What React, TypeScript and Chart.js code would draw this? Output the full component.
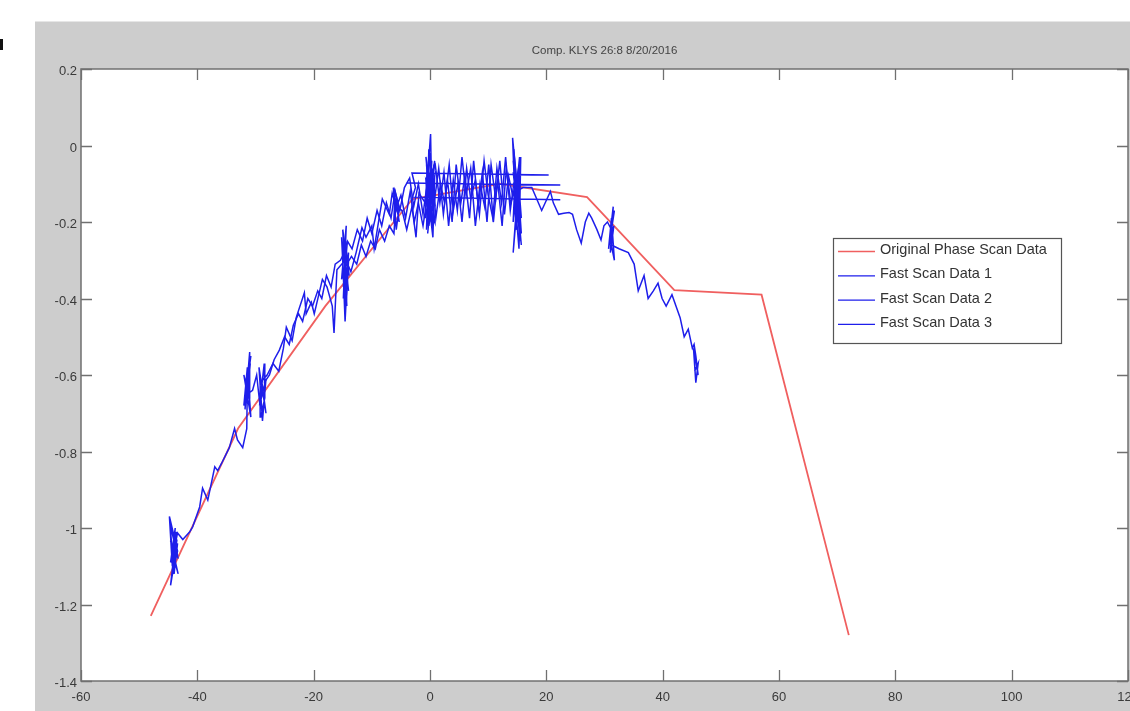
import React, { useEffect, useRef } from "react";
import { Chart, registerables } from "chart.js";

Chart.register(...registerables);

const TITLE = "Comp. KLYS 26:8 8/20/2016";
const seriesLabels = ["Original Phase Scan Data", "Fast Scan Data 1", "Fast Scan Data 2", "Fast Scan Data 3"];

const xTicks = [-60, -40, -20, 0, 20, 40, 60, 80, 100, 120];
const xTickLabels = ["-60", "-40", "-20", "0", "20", "40", "60", "80", "100", "120"];
const yTicks = [0.2, 0, -0.2, -0.4, -0.6, -0.8, -1, -1.2, -1.4];
const yTickLabels = ["0.2", "0", "-0.2", "-0.4", "-0.6", "-0.8", "-1", "-1.2", "-1.4"];

const originalX = [-48, -33, -18, -3, 12, 27, 42, 57, 72];
const originalY = [-1.23, -0.74, -0.42, -0.14, -0.1, -0.135, -0.378, -0.39, -1.28];

const fastScan1: [number, number][] = [
  [-44.0, -1.02], [-43.3, -1.08], [-44.7, -0.99], [-44.0, -1.12], [-43.4, -1.04], [-44.6, -1.15], [-43.6, -1.01], [-44.3, -1.10],
  [-44.8, -0.97], [-43.4, -1.06], [-44.4, -1.13], [-43.5, -1.03], [-44.6, -1.09], [-43.8, -1.00], [-44.2, -1.07], [-43.3, -1.12],
  [-44.5, -1.04], [-43.9, -1.05],
  [-43.4, -1.013], [-42.5, -1.03], [-41.3, -1.01], [-40.8, -0.997], [-39.6, -0.945], [-39.1, -0.896], [-38.2, -0.927], [-37.0, -0.84],
  [-36.5, -0.85], [-35.8, -0.83], [-34.5, -0.79], [-33.6, -0.74], [-33.1, -0.77], [-32.2, -0.79], [-31.5, -0.74],
  [-31.4, -0.62], [-30.8, -0.55], [-32.0, -0.68], [-31.4, -0.58], [-30.8, -0.71], [-32.0, -0.60], [-31.1, -0.66], [-31.0, -0.54],
  [-31.8, -0.69], [-31.6, -0.63], [-30.9, -0.57], [-31.4, -0.65],
  [-30.5, -0.64], [-29.8, -0.60], [-29.3, -0.67],
  [-28.8, -0.63], [-28.2, -0.70], [-29.4, -0.58], [-28.8, -0.72], [-28.2, -0.61], [-29.3, -0.68], [-28.5, -0.57], [-28.4, -0.66],
  [-29.1, -0.71], [-29.2, -0.62],
  [-28.0, -0.60], [-27.0, -0.57], [-26.0, -0.59], [-25.2, -0.53], [-24.7, -0.475], [-23.7, -0.51], [-23.0, -0.45], [-21.6, -0.385],
  [-21.3, -0.44], [-20.4, -0.41], [-19.9, -0.44], [-18.5, -0.35], [-17.7, -0.37], [-16.8, -0.42], [-16.5, -0.49], [-16.0, -0.325],
  [-14.6, -0.30], [-14.0, -0.38], [-15.2, -0.24], [-14.6, -0.43], [-14.0, -0.28], [-15.2, -0.35], [-14.4, -0.21], [-14.9, -0.40],
  [-14.1, -0.31], [-14.6, -0.46], [-15.1, -0.26], [-14.2, -0.36], [-14.8, -0.33], [-14.3, -0.42], [-14.7, -0.29],
  [-13.6, -0.33], [-12.7, -0.28], [-11.7, -0.215], [-11.0, -0.24], [-10.0, -0.21], [-9.6, -0.27], [-8.8, -0.195], [-8.2, -0.14],
  [-7.0, -0.18], [-6.5, -0.125], [-5.8, -0.16], [-4.8, -0.17], [-4.0, -0.22], [-3.1, -0.16], [-2.4, -0.24], [-1.9, -0.125], [-0.8, -0.15],
  [0.1, -0.10], [0.7, -0.18], [-0.6, -0.05], [0.4, -0.22], [0.1, 0.03], [-0.7, -0.14], [0.8, -0.20], [0.0, -0.02], [-0.4, -0.12],
  [0.5, -0.24], [0.8, -0.08], [-0.5, -0.16], [0.3, -0.04], [-0.1, -0.19], [-0.7, -0.09], [0.6, -0.13], [-0.2, -0.21], [0.3, -0.07],
  [0.9, -0.05], [1.7, -0.15], [2.4, -0.07], [3.2, -0.21], [4.0, -0.09], [4.7, -0.17], [5.5, -0.03], [6.2, -0.13], [7.0, -0.06],
  [7.8, -0.21], [8.6, -0.10], [9.4, -0.16], [10.1, -0.05], [10.9, -0.20], [11.6, -0.09], [12.4, -0.21], [13.1, -0.06], [13.9, -0.15],
  [14.5, -0.12],
  [15.1, -0.07], [15.7, -0.19], [14.5, -0.12], [15.3, -0.27], [15.6, -0.03], [14.5, -0.17], [15.4, -0.10], [14.8, -0.22],
  [15.5, -0.14], [14.6, -0.08], [15.1, -0.077],
  [20.4, -0.077], [-3.1, -0.072], [-2.5, -0.11], [-3.0, -0.135], [22.4, -0.142],
];

const fastScan2: [number, number][] = [
  [-28.5, -0.62], [-27.6, -0.60], [-26.8, -0.56], [-25.9, -0.535], [-25.0, -0.50], [-24.2, -0.52], [-23.5, -0.47], [-22.6, -0.44],
  [-21.9, -0.46], [-21.0, -0.40], [-20.2, -0.42], [-19.3, -0.38], [-18.6, -0.40], [-17.8, -0.34], [-17.0, -0.37], [-16.3, -0.31],
  [-15.4, -0.30],
  [-14.4, -0.27], [-13.9, -0.34], [-15.0, -0.22], [-14.4, -0.41], [-14.0, -0.30], [-14.9, -0.37], [-14.2, -0.25], [-14.7, -0.32],
  [-13.5, -0.29], [-12.6, -0.31], [-11.8, -0.26], [-11.0, -0.29], [-10.2, -0.25], [-9.4, -0.27], [-8.7, -0.22], [-7.8, -0.25],
  [-7.0, -0.21], [-6.2, -0.23],
  [-5.8, -0.14], [-5.3, -0.20], [-6.3, -0.11], [-5.8, -0.22], [-5.3, -0.16], [-6.0, -0.12], [-6.2, -0.19], [-5.5, -0.15],
  [-5.0, -0.13], [-4.2, -0.19], [-3.4, -0.12], [-2.7, -0.20], [-2.0, -0.15], [-1.2, -0.21], [-0.5, -0.14],
  [0.0, -0.09], [0.6, -0.17], [-0.7, -0.03], [0.4, -0.21], [0.8, -0.12], [-0.5, -0.06], [-0.8, -0.19], [0.5, -0.10], [0.1, -0.15],
  [-0.4, -0.23], [0.7, -0.05], [0.0, -0.11],
  [0.8, -0.14], [1.5, -0.06], [2.3, -0.18], [3.0, -0.09], [3.8, -0.20], [4.5, -0.05], [5.3, -0.15], [6.0, -0.08], [6.8, -0.19],
  [7.5, -0.04], [8.3, -0.16], [9.0, -0.07], [9.8, -0.20], [10.5, -0.05], [11.3, -0.14], [12.0, -0.04], [12.8, -0.18], [13.5, -0.08],
  [14.2, -0.13],
  [14.8, -0.10], [15.4, -0.18], [14.2, 0.02], [14.8, -0.22], [15.5, -0.06], [14.3, -0.28], [15.0, -0.13], [15.4, -0.03], [14.3, -0.20],
  [14.6, -0.09], [15.5, -0.25], [14.9, -0.15], [14.3, -0.07], [15.3, -0.19], [14.7, -0.11], [15.5, -0.24], [14.3, -0.04], [15.0, -0.12],
  [15.0, -0.103], [22.4, -0.103], [-4.0, -0.098],
];

const fastScan3: [number, number][] = [
  [-15.0, -0.29], [-14.2, -0.25], [-13.4, -0.27], [-12.5, -0.22], [-11.6, -0.25], [-10.8, -0.19], [-10.0, -0.23], [-9.1, -0.17],
  [-8.3, -0.21], [-7.5, -0.15], [-6.7, -0.19], [-6.0, -0.12], [-5.2, -0.17], [-4.4, -0.11],
  [-3.5, -0.085], [-2.8, -0.16], [-2.0, -0.10], [-1.2, -0.18], [-0.4, -0.09],
  [0.2, -0.13], [0.8, -0.04], [-0.5, -0.19], [0.5, -0.08], [0.9, -0.16], [-0.2, -0.01], [-0.6, -0.22], [0.6, -0.11],
  [1.0, -0.19], [1.8, -0.10], [2.5, -0.15], [3.3, -0.05], [4.0, -0.17], [4.8, -0.10], [5.5, -0.20], [6.3, -0.06], [7.0, -0.14],
  [7.8, -0.09], [8.5, -0.18], [9.3, -0.04], [10.0, -0.13], [10.8, -0.19], [11.5, -0.06], [12.3, -0.15], [13.0, -0.03], [13.8, -0.17],
  [14.4, -0.10],
  [15.0, -0.08], [15.6, -0.21], [14.4, -0.01], [15.1, -0.16], [15.7, -0.26], [14.5, -0.05], [15.3, -0.14], [15.7, -0.23], [14.6, -0.09],
  [15.4, -0.17], [14.8, -0.12],
  [16.0, -0.11], [17.5, -0.11], [19.2, -0.17], [20.7, -0.12], [21.2, -0.15], [22.1, -0.18], [23.0, -0.177], [23.9, -0.175],
  [24.5, -0.18], [25.2, -0.22], [26.0, -0.255], [26.7, -0.20], [27.3, -0.177], [27.8, -0.19], [28.7, -0.22], [29.4, -0.247],
  [29.9, -0.21], [30.5, -0.20],
  [31.2, -0.22], [31.7, -0.17], [30.7, -0.27], [31.2, -0.19], [31.7, -0.30], [30.9, -0.24], [31.5, -0.16], [31.0, -0.28], [31.6, -0.21],
  [31.2, -0.26],
  [32.5, -0.27], [34.1, -0.28], [35.1, -0.31], [35.8, -0.38], [36.8, -0.34], [37.5, -0.40], [38.4, -0.38], [39.2, -0.36], [39.9, -0.40],
  [40.6, -0.42], [41.6, -0.39], [42.3, -0.42], [43.0, -0.45], [43.7, -0.50], [44.4, -0.48], [45.1, -0.53], [45.4, -0.52],
  [45.7, -0.55], [46.1, -0.60], [45.3, -0.53], [45.7, -0.62], [46.1, -0.57], [45.5, -0.59],
];

const RED = "rgb(240,95,95)";
const BLUE = "rgb(30,30,235)";
const FONT = "'Liberation Sans', Arial, Helvetica, sans-serif";

export default function App() {
  const ref = useRef<HTMLCanvasElement>(null);

  useEffect(() => {
    const canvas = ref.current;
    if (!canvas) return;

    const decor = {
      id: "matlabDecor",
      beforeDraw(chart: any) {
        const { ctx, chartArea: a, width, height } = chart;
        ctx.save();
        ctx.fillStyle = "#ffffff";
        ctx.fillRect(0, 0, width, height);
        ctx.fillStyle = "#cdcdcd";
        ctx.fillRect(35, 22, width - 35, height - 22);
        ctx.fillStyle = "#e6e6e6";
        ctx.fillRect(35, 21, width - 35, 1);
        ctx.fillStyle = "#ffffff";
        ctx.fillRect(a.left, a.top, a.right - a.left, a.bottom - a.top);
        ctx.fillStyle = "#111111";
        ctx.fillRect(0, 39, 3, 11);
        ctx.restore();
      },
      afterDraw(chart: any) {
        const { ctx, chartArea: a, scales } = chart;
        const xs = scales.x;
        const ys = scales.y;
        ctx.save();
        ctx.strokeStyle = "#707070";
        ctx.lineWidth = 1.5;
        ctx.strokeRect(a.left, a.top, a.right - a.left, a.bottom - a.top);

        ctx.lineWidth = 1.3;
        ctx.beginPath();
        xTicks.forEach((v) => {
          const px = Math.round(xs.getPixelForValue(v)) + 0.5;
          ctx.moveTo(px, a.bottom);
          ctx.lineTo(px, a.bottom - 11);
          ctx.moveTo(px, a.top);
          ctx.lineTo(px, a.top + 11);
        });
        yTicks.forEach((v) => {
          const py = Math.round(ys.getPixelForValue(v)) + 0.5;
          ctx.moveTo(a.left, py);
          ctx.lineTo(a.left + 11, py);
          ctx.moveTo(a.right, py);
          ctx.lineTo(a.right - 11, py);
        });
        ctx.stroke();

        ctx.fillStyle = "#3a3a3a";
        ctx.font = `13px ${FONT}`;
        ctx.textAlign = "center";
        ctx.textBaseline = "middle";
        xTicks.forEach((v, i) => {
          ctx.fillText(xTickLabels[i], xs.getPixelForValue(v), a.bottom + 16);
        });
        ctx.textAlign = "right";
        yTicks.forEach((v, i) => {
          ctx.fillText(yTickLabels[i], a.left - 4, ys.getPixelForValue(v) + 2.5);
        });

        ctx.font = `11.5px ${FONT}`;
        ctx.textAlign = "center";
        ctx.fillStyle = "#444444";
        ctx.fillText(TITLE, (a.left + a.right) / 2, 51);

        const lx = a.left + 752;
        const ly = a.top + 169;
        const lw = 228;
        const lh = 105;
        ctx.fillStyle = "#ffffff";
        ctx.fillRect(lx, ly, lw, lh);
        ctx.strokeStyle = "#555555";
        ctx.lineWidth = 1.2;
        ctx.strokeRect(lx + 0.5, ly + 0.5, lw, lh);
        ctx.font = `14.5px ${FONT}`;
        ctx.textAlign = "left";
        const colors = [RED, BLUE, BLUE, BLUE];
        seriesLabels.forEach((label, i) => {
          const cy = ly + 13 + i * 24.3;
          ctx.strokeStyle = colors[i];
          ctx.lineWidth = 1.3;
          ctx.beginPath();
          ctx.moveTo(lx + 5, cy + 0.5);
          ctx.lineTo(lx + 42, cy + 0.5);
          ctx.stroke();
          ctx.fillStyle = "#333333";
          ctx.fillText(label, lx + 47, cy - 1);
        });
        ctx.restore();
      },
    };

    const toPts = (arr: [number, number][]) => arr.map(([x, y]) => ({ x, y }));
    const blueSet = (label: string, arr: [number, number][], order: number) => ({
      label,
      data: toPts(arr),
      showLine: true,
      borderColor: BLUE,
      backgroundColor: BLUE,
      borderWidth: 1.5,
      pointRadius: 0,
      order,
    });

    const chart = new Chart(canvas, {
      type: "scatter",
      data: {
        datasets: [
          {
            label: seriesLabels[0],
            data: originalX.map((x, i) => ({ x, y: originalY[i] })),
            showLine: true,
            borderColor: RED,
            backgroundColor: RED,
            borderWidth: 1.8,
            pointRadius: 0,
            order: 4,
          },
          blueSet(seriesLabels[1], fastScan1, 1),
          blueSet(seriesLabels[2], fastScan2, 2),
          blueSet(seriesLabels[3], fastScan3, 3),
        ],
      },
      options: {
        animation: false,
        responsive: false,
        maintainAspectRatio: false,
        events: [],
        layout: { padding: { left: 81, top: 69, right: 2, bottom: 30 } },
        plugins: {
          legend: { display: false },
          title: { display: false },
          tooltip: { enabled: false },
        },
        elements: { line: { tension: 0 }, point: { radius: 0 } },
        scales: {
          x: { type: "linear", min: -60, max: 120, display: false },
          y: { type: "linear", min: -1.4, max: 0.2, display: false },
        },
      },
      plugins: [decor],
    });

    return () => chart.destroy();
  }, []);

  return (
    <div style={{ position: "absolute", left: 0, top: 0, width: 1130, height: 711 }}>
      <canvas ref={ref} width={1130} height={711} style={{ width: 1130, height: 711, display: "block" }} />
    </div>
  );
}
